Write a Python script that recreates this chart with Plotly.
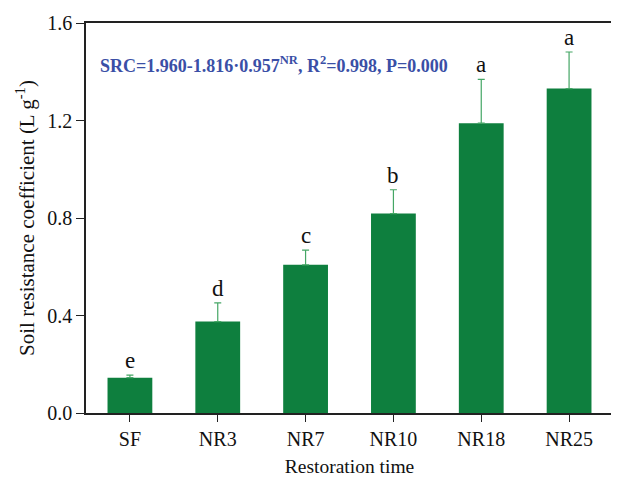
import plotly.graph_objects as go

categories = ["SF", "NR3", "NR7", "NR10", "NR18", "NR25"]
src_values = [0.145, 0.375, 0.608, 0.818, 1.189, 1.331]
src_errors = [0.010, 0.077, 0.060, 0.098, 0.180, 0.150]
letters = ["e", "d", "c", "b", "a", "a"]
y_ticks = [0.0, 0.4, 0.8, 1.2, 1.6]
y_tick_labels = ["0.0", "0.4", "0.8", "1.2", "1.6"]

FONT = "Liberation Serif"

fig = go.Figure()
fig.add_trace(go.Bar(
    x=categories, y=src_values,
    marker=dict(color="#0E7F3E", line=dict(width=0)),
    width=0.51,
    error_y=dict(type="data", array=src_errors, symmetric=False, arrayminus=[0]*6,
                 color="#45A665", thickness=1.2, width=3.5, visible=True),
    showlegend=False,
))

for c, v, e, l in zip(categories, src_values, src_errors, letters):
    fig.add_annotation(x=c, y=v + e, text=l, showarrow=False, yanchor="bottom",
                       yshift=0, font=dict(family=FONT, size=23, color="#111111"))

fig.add_annotation(xref="paper", yref="paper", x=0.022, y=0.893, xanchor="left", yanchor="middle",
                   text="<b>SRC=1.960-1.816·0.957<sup>NR</sup>, R<sup>2</sup>=0.998, P=0.000</b>",
                   showarrow=False, font=dict(family=FONT, size=18, color="#3A4FA6"))

fig.update_layout(
    width=611, height=473,
    margin=dict(l=78, r=4, t=12, b=68),
    paper_bgcolor="white", plot_bgcolor="white",
    font=dict(family=FONT, size=20, color="#111111"),
    bargap=0.49,
)
fig.update_xaxes(
    range=[-0.5, 5.5], showline=True, linecolor="#222222", linewidth=1.5, mirror=True,
    ticks="outside", ticklen=7, tickwidth=1.3, tickcolor="#222222",
    tickfont=dict(family=FONT, size=20),
    title=dict(text="Restoration time", font=dict(family=FONT, size=19.5), standoff=11),
    showgrid=False,
)
fig.update_yaxes(
    range=[0, 1.6], tickvals=y_ticks, ticktext=y_tick_labels,
    showline=True, linecolor="#222222", linewidth=1.5, mirror=True,
    ticks="outside", ticklen=8, tickwidth=1.3, tickcolor="#222222",
    tickfont=dict(family=FONT, size=20),
    title=dict(text="Soil resistance coefficient (L g<sup>-1</sup>)", font=dict(family=FONT, size=21), standoff=7),
    showgrid=False, zeroline=False,
)

fig.write_html("out.html")
